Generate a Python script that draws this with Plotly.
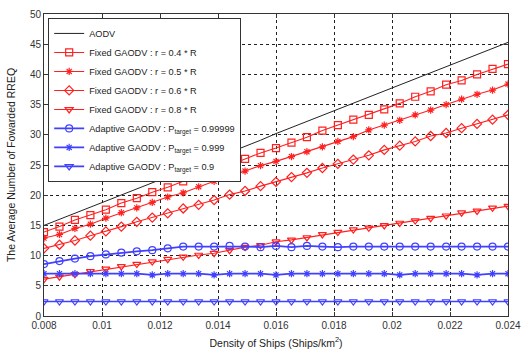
import numpy as np
import plotly.graph_objects as go

density = list(np.linspace(0.008, 0.024, 31))

aodv = [15.0, 16.0, 17.0, 18.0, 19.0, 20.1, 21.1, 22.1, 23.1, 24.1, 25.1,
        26.1, 27.1, 28.1, 29.1, 30.2, 31.2, 32.2, 33.2, 34.2, 35.2,
        36.2, 37.2, 38.2, 39.2, 40.2, 41.3, 42.3, 43.3, 44.3, 45.3]
fixed_04 = [13.9, 14.8, 15.9, 16.7, 17.6, 18.7, 19.5, 20.5, 21.3, 22.3, 23.2,
            24.3, 25.0, 26.0, 27.0, 27.8, 28.7, 29.6, 30.7, 31.6, 32.5,
            33.3, 34.2, 35.2, 36.3, 37.2, 38.3, 39.0, 40.0, 40.9, 41.7]
fixed_05 = [12.9, 13.5, 14.5, 15.2, 16.2, 17.1, 17.9, 18.8, 19.7, 20.4, 21.4,
            22.3, 23.1, 24.0, 24.9, 25.6, 26.4, 27.2, 28.0, 28.9, 29.7,
            30.8, 31.6, 32.4, 33.3, 34.1, 35.0, 35.9, 36.7, 37.4, 38.4]
fixed_06 = [11.2, 11.8, 12.5, 13.3, 14.0, 14.8, 15.6, 16.3, 17.0, 17.8, 18.4,
            19.2, 20.1, 20.7, 21.5, 22.2, 23.0, 23.7, 24.5, 25.2, 25.9,
            26.6, 27.5, 28.2, 28.9, 29.8, 30.3, 31.1, 31.8, 32.5, 33.3]
fixed_08 = [6.1, 6.5, 6.9, 7.4, 7.8, 8.2, 8.6, 9.0, 9.4, 9.8, 10.1,
            10.4, 10.9, 11.4, 11.7, 12.3, 12.6, 13.0, 13.5, 13.9, 14.3,
            14.6, 15.0, 15.4, 15.8, 16.2, 16.6, 17.1, 17.4, 17.9, 18.2]
adapt_99999 = [8.6, 9.1, 9.5, 9.9, 10.2, 10.5, 10.7, 10.9, 11.2, 11.5, 11.5,
               11.5, 11.6, 11.5, 11.4, 11.6, 11.4, 11.6, 11.5, 11.4, 11.5,
               11.5, 11.5, 11.5, 11.5, 11.5, 11.5, 11.5, 11.5, 11.5, 11.5]
adapt_999 = [7.0, 7.0, 7.0, 7.0, 7.0, 7.0, 7.0, 6.8, 7.0, 7.0, 7.0,
             6.8, 7.0, 7.0, 7.0, 6.8, 7.0, 7.0, 7.0, 7.0, 7.0,
             7.0, 7.0, 6.8, 7.0, 7.0, 7.0, 7.0, 6.8, 7.0, 7.0]
adapt_9 = [2.4] * 31

x_ticks = [0.008, 0.01, 0.012, 0.014, 0.016, 0.018, 0.02, 0.022, 0.024]
x_tick_labels = ["0.008", "0.01", "0.012", "0.014", "0.016", "0.018", "0.02", "0.022", "0.024"]
y_ticks = [0, 5, 10, 15, 20, 25, 30, 35, 40, 45, 50]

RED = "#ff2020"
BLUE = "#4040ff"
FONT = "Liberation Sans, Arial"

series = [
    ("AODV", aodv, "#222222", None),
    ("Fixed GAODV : r = 0.4 * R", fixed_04, RED, "square-open"),
    ("Fixed GAODV : r = 0.5 * R", fixed_05, RED, "asterisk-open"),
    ("Fixed GAODV : r = 0.6 * R", fixed_06, RED, "diamond-open"),
    ("Fixed GAODV : r = 0.8 * R", fixed_08, RED, "triangle-down-open"),
    ("Adaptive GAODV : P<sub>target</sub> = 0.99999", adapt_99999, BLUE, "circle-open"),
    ("Adaptive GAODV : P<sub>target</sub> = 0.999", adapt_999, BLUE, "asterisk-open"),
    ("Adaptive GAODV : P<sub>target</sub> = 0.9", adapt_9, BLUE, "triangle-down-open"),
]

fig = go.Figure()
for name, vals, color, sym in series:
    if sym is None:
        fig.add_trace(go.Scatter(x=density, y=vals, name=name, mode="lines",
                                 line=dict(color=color, width=1)))
    else:
        size = 6 if "asterisk" in sym else 7
        lw = 1.7 if color == BLUE else 1.1
        fig.add_trace(go.Scatter(x=density, y=vals, name=name, mode="lines+markers",
                                 line=dict(color=color, width=lw),
                                 marker=dict(symbol=sym, size=size, color=color,
                                             line=dict(color=color, width=1.2))))

axis_common = dict(showline=True, linecolor="#333333", linewidth=1, mirror="ticks",
                   ticks="inside", ticklen=4, tickcolor="#333333",
                   showgrid=True, gridcolor="#222222", griddash="dot", gridwidth=1,
                   zeroline=False, tickfont=dict(family=FONT, size=10, color="#333333"))

fig.update_xaxes(range=[0.008, 0.024], tickvals=x_ticks, ticktext=x_tick_labels,
                 title=dict(text="Density of Ships (Ships/km<sup>2</sup>)", standoff=9,
                            font=dict(family=FONT, size=10.5, color="#222222")),
                 **axis_common)
fig.update_yaxes(range=[0, 50], tickvals=y_ticks,
                 title=dict(text="The Average Number of Fowarded RREQ", standoff=12,
                            font=dict(family=FONT, size=10.5, color="#222222")),
                 **axis_common)

fig.update_layout(
    width=529, height=355,
    margin=dict(l=44, r=16, t=8, b=33),
    paper_bgcolor="white", plot_bgcolor="white",
    font=dict(family=FONT, size=10, color="#222222"),
    showlegend=True,
    legend=dict(x=0.009, y=0.987, xanchor="left", yanchor="top",
                bgcolor="white", bordercolor="#333333", borderwidth=1,
                font=dict(family=FONT, size=9.2, color="#222222"),
                tracegroupgap=0, itemwidth=30),
)

fig.write_html("out.html", config={"displayModeBar": False},
               post_script="document.body.style.margin='0px';")
